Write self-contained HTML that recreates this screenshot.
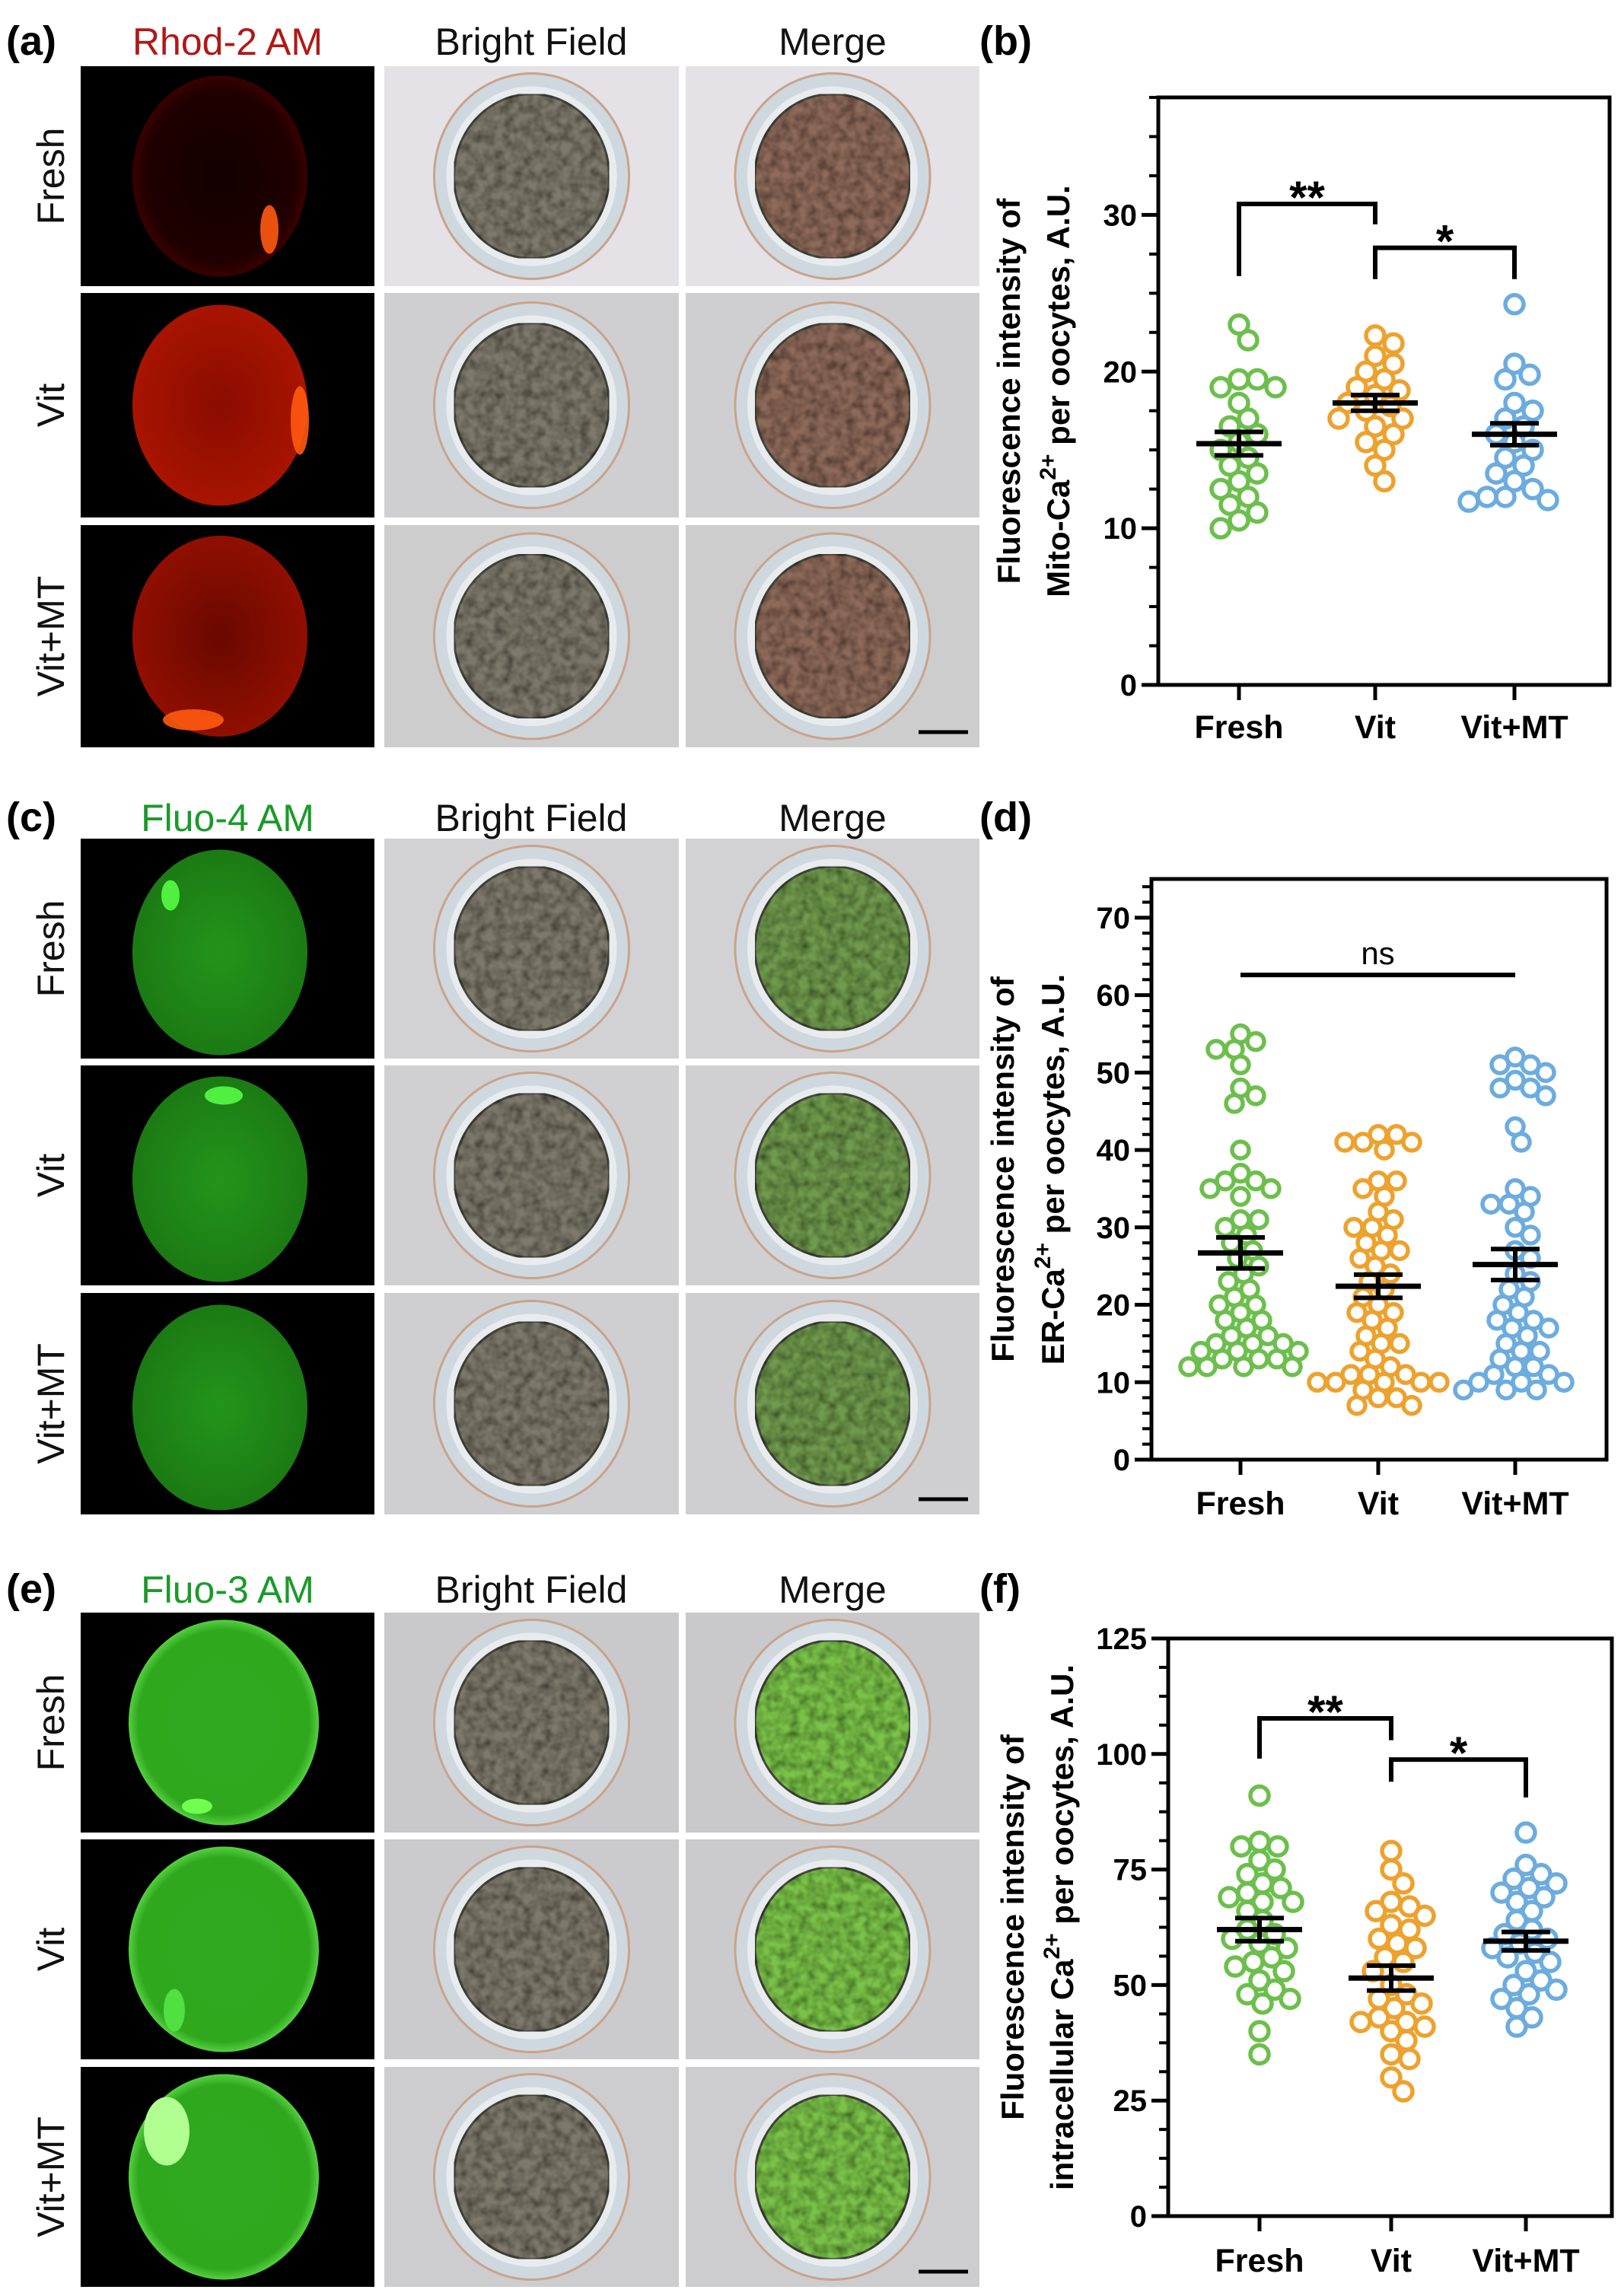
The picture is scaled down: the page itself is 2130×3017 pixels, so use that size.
<!DOCTYPE html>
<html><head><meta charset="utf-8">
<style>
html,body{margin:0;padding:0;background:#fff;}
svg{display:block;}
text{font-family:"Liberation Sans",Arial,sans-serif;}
</style></head>
<body>
<svg id="fig" width="2130" height="3017" viewBox="0 0 2130 3017" xmlns="http://www.w3.org/2000/svg">
<defs>
<filter id="tex" x="0" y="0" width="100%" height="100%">
<feTurbulence type="fractalNoise" baseFrequency="0.08" numOctaves="2" seed="3" result="n"/>
<feColorMatrix in="n" type="matrix" values="0 0 0 0 0  0 0 0 0 0  0 0 0 0 0  0 0 0 1.2 -0.35" result="a"/>
<feComposite in="a" in2="SourceGraphic" operator="in" result="b"/>
<feMerge><feMergeNode in="SourceGraphic"/><feMergeNode in="b"/></feMerge>
</filter>
<radialGradient id="glowR1"><stop offset="0" stop-color="#120000"/><stop offset="0.85" stop-color="#200000"/><stop offset="1" stop-color="#3a0000"/></radialGradient>
<radialGradient id="glowR2"><stop offset="0" stop-color="#8a0c00"/><stop offset="1" stop-color="#a81400"/></radialGradient>
<radialGradient id="glowR3"><stop offset="0" stop-color="#6a0800"/><stop offset="1" stop-color="#900f00"/></radialGradient>
<radialGradient id="glowG4"><stop offset="0" stop-color="#23951a"/><stop offset="1" stop-color="#1c7a14"/></radialGradient>
<radialGradient id="glowG3"><stop offset="0" stop-color="#30a820"/><stop offset="0.9" stop-color="#2fa81e"/><stop offset="1" stop-color="#55d040"/></radialGradient>
</defs>
<g id="images"></g>
<g id="labels"></g>
<g id="charts"></g>
</svg>
<script>
// ===== Chart data =====
const categories = ["Fresh","Vit","Vit+MT"];
const bFresh = [23,22,19.5,19.5,19,19,18,17,16.5,16,15.5,15,14.5,14,13.5,13,12.5,12,11.5,11,10.5,10];
const bVit = [22.3,21.8,21,20.5,20,19.5,19,18.8,18.5,18,17.8,17.5,17,17,16.5,16,15.5,15,14,13];
const bVitMT = [24.3,20.5,19.8,19.5,18,17.5,17,16.5,16,15.5,15,14.5,14,13.5,13,12.5,12,12,11.8,11.7];
const bMeans = [15.4,18.0,16.0];
const bSems = [0.75,0.5,0.7];
const bTicks = [0,10,20,30];

const dFresh = [55,54,53,53,51,48,47,46,40,37,36,36,35,35,34,31,31,30,29,28,27,26,25,24,23,22,21,20,20,19,18,18,17,16,16,15,15,15,14,14,13,13,12,12,12,12,13,14];
const dVit = [42,42,41,41,41,40,36,36,35,34,32,31,30,30,29,28,27,27,26,25,24,23,22,21,20,19,19,18,17,16,15,15,14,13,12,11,11,10,10,10,10,9,8,7,7,8,10,11];
const dVitMT = [52,51,51,50,49,48,48,47,43,41,35,34,33,33,32,30,29,27,26,24,23,22,21,20,19,18,18,17,17,16,15,14,14,13,12,11,11,10,10,9,9,9,10,12];
const dMeans = [26.7,22.4,25.2];
const dSems = [2.0,1.5,2.0];
const dTicks = [0,10,20,30,40,50,60,70];

const fFresh = [91,81,80,80,77,75,74,72,71,70,69,68,68,66,64,62,61,60,59,58,56,55,54,53,51,49,48,47,46,40,35];
const fVit = [79,75,72,68,67,66,65,63,62,60,59,58,56,55,53,50,48,47,46,45,43,42,42,41,40,38,35,34,30,27];
const fVitMT = [83,76,74,73,72,71,70,69,68,66,64,62,61,60,59,58,57,56,55,53,51,50,49,48,47,45,43,41];
const fMeans = [62.0,51.5,59.5];
const fSems = [2.5,2.7,2.0];
const fTicks = [0,25,50,75,100,125];

const NS="http://www.w3.org/2000/svg";
function el(tag, attrs, parent, txt){
  const e=document.createElementNS(NS,tag);
  for(const k in attrs) e.setAttribute(k,attrs[k]);
  if(txt!==undefined) e.textContent=txt;
  parent.appendChild(e); return e;
}
const colors=["#6cbf4c","#eda22e","#6cacdf"];

// ===== Micrographs =====
const imgG=document.getElementById('images');
const cols=[106,505,901], colW=[386,387,386];
const sections=[
 {rows:[[87,376],[385,680],[690,982]], kind:'rhod'},
 {rows:[[1102,1391],[1400,1689],[1699,1990]], kind:'fluo4'},
 {rows:[[2119,2408],[2417,2706],[2716,3005]], kind:'fluo3'}
];
sections.forEach((s,si)=>{
  s.rows.forEach((r,ri)=>{
    const y=r[0], h=r[1]-r[0];
    for(let c=0;c<3;c++){
      const x=cols[c], w=colW[c];
      const g=el('g',{},imgG);
      
      
      const cx=x+w/2, cy=y+h/2;
      if(c===0){
        el('rect',{x:x,y:y,width:w,height:h,fill:'#000'},g);
        if(s.kind==='rhod'){
          const fills=['url(#glowR1)','url(#glowR2)','url(#glowR3)'];
          el('ellipse',{cx:cx-10,cy:cy,rx:115,ry:132,fill:fills[ri]},g);
          const spots=[[cx+55,cy+70,12,32],[cx+95,cy+20,12,45],[cx-45,cy+110,40,14]];
          const sp=spots[ri];
          el('ellipse',{cx:sp[0],cy:sp[1],rx:sp[2],ry:sp[3],fill:'#ff5a10',opacity:0.9},g);
        } else if(s.kind==='fluo4'){
          el('ellipse',{cx:cx-10,cy:cy+5,rx:115,ry:135,fill:'url(#glowG4)'},g);
          if(ri===0) el('ellipse',{cx:cx-75,cy:cy-70,rx:12,ry:20,fill:'#50f040'},g);
          if(ri===1) el('ellipse',{cx:cx-5,cy:cy-105,rx:25,ry:12,fill:'#50f040'},g);
        } else {
          el('ellipse',{cx:cx-5,cy:cy,rx:125,ry:135,fill:'url(#glowG3)'},g);
          if(ri===0) el('ellipse',{cx:cx-40,cy:cy+110,rx:20,ry:10,fill:'#70ff50'},g);
          if(ri===1) el('ellipse',{cx:cx-70,cy:cy+80,rx:14,ry:28,fill:'#50e040'},g);
          if(ri===2) el('ellipse',{cx:cx-80,cy:cy-60,rx:30,ry:45,fill:'#b0ff90'},g);
        }
      } else {
        const bgs=[['#e4e2e6','#cfcfd2','#cdcdce'],['#d2d2d4','#d0d0d2','#cfcfd1'],['#c9c9cb','#cbcbcd','#cdcdcf']];
        el('rect',{x:x,y:y,width:w,height:h,fill:bgs[si][ri]},g);
        el('ellipse',{cx:cx,cy:cy,rx:128,ry:135,fill:'#cfd8de',stroke:'#c9a38a','stroke-width':3},g);
        el('ellipse',{cx:cx,cy:cy,rx:112,ry:118,fill:'#e8ecee'},g);
        let inner = c===1 ? '#7e796c' : (s.kind==='rhod' ? '#8e6a5a' : (s.kind==='fluo4' ? '#6f9a4e' : '#7ac24a'));
        el('ellipse',{cx:cx,cy:cy,rx:102,ry:108,fill:inner,stroke:'#4a4a40','stroke-width':3,filter:'url(#tex)'},g);
      }
      if(c===2 && ri===2){
        el('line',{x1:x+w-80,x2:x+w-15,y1:y+h-20,y2:y+h-20,stroke:'#000','stroke-width':5},g);
      }
    }
  });
});

// ===== Labels =====
const L=document.getElementById('labels');
const heads=[[58,'Rhod-2 AM','#b01818','(a)','(b)'],[1078,'Fluo-4 AM','#1a9a2a','(c)','(d)'],[2092,'Fluo-3 AM','#1a9a2a','(e)','(f)']];
heads.forEach((h,i)=>{
  let t=el('text',{x:8,y:h[0]+14,'font-size':54,'font-weight':'bold',fill:'#000'},L,h[3]);
   
  t=el('text',{x:1287,y:h[0]+14,'font-size':54,'font-weight':'bold',fill:'#000'},L,h[4]);
   
  t=el('text',{x:299,y:h[0]+14,'font-size':50,fill:h[2],'text-anchor':'middle'},L,h[1]);
   
  t=el('text',{x:698,y:h[0]+14,'font-size':50,fill:'#111','text-anchor':'middle'},L,'Bright Field');
   
  t=el('text',{x:1094,y:h[0]+14,'font-size':50,fill:'#111','text-anchor':'middle'},L,'Merge');
   
  sections[i].rows.forEach((r,ri)=>{
    const yc=(r[0]+r[1])/2;
    const tt=el('text',{x:0,y:0,'font-size':50,fill:'#111','text-anchor':'middle',transform:`translate(84,${yc}) rotate(-90)`},L,categories[ri]);
     
  });
});

// ===== Charts =====
const C=document.getElementById('charts');
function chart(o){
  const g=el('g',{},C);
   
  const ys=v=>o.y0-(v/o.max)*(o.y0-o.yTop);
  el('rect',{x:o.x0,y:o.yTop,width:o.x1-o.x0,height:o.y0-o.yTop,fill:'none',stroke:'#000','stroke-width':5},g);
  for(let v=0; v<=o.max+1e-6; v+=o.minor){
    el('line',{x1:o.x0-12,x2:o.x0,y1:ys(v),y2:ys(v),stroke:'#000','stroke-width':4},g);
  }
  o.ticks.forEach(v=>{
    el('line',{x1:o.x0-22,x2:o.x0,y1:ys(v),y2:ys(v),stroke:'#000','stroke-width':5},g);
    const t=el('text',{x:o.x0-28,y:ys(v)+14,'font-size':40,'font-weight':'bold','text-anchor':'end',fill:'#000'},g,String(v));
     
  });
  categories.forEach((c,i)=>{
    el('line',{x1:o.cx[i],x2:o.cx[i],y1:o.y0,y2:o.y0+20,stroke:'#000','stroke-width':5},g);
    const t=el('text',{x:o.cx[i],y:o.labY,'font-size':43,'font-weight':'bold','text-anchor':'middle',fill:'#000'},g,c);
     
  });
  const yc=(o.yTop+o.y0)/2;
  const t1=el('text',{'font-size':42,'font-weight':'bold','text-anchor':'middle',fill:'#000',transform:`translate(${o.tx1},${yc}) rotate(-90)`},g,'Fluorescence intensity of');
   
  const t2=el('text',{'font-size':42,'font-weight':'bold','text-anchor':'middle',fill:'#000',transform:`translate(${o.tx2},${yc}) rotate(-90)`},g);
   
  el('tspan',{},t2,o.pre+'Ca');
  el('tspan',{'font-size':30,dy:-18},t2,'2+');
  el('tspan',{dy:18},t2,' per oocytes,  A.U.');
  const R=o.r;
  o.series.forEach((vals,i)=>{
    const sg=el('g',{},g);
     
    const placed=[];
    const sorted=vals.slice().sort((a,b)=>b-a);
    sorted.forEach(v=>{
      const py=ys(v); let off=0;
      for(let k=0;k<200;k++){
        const cand = (k%2? 1:-1)*Math.ceil(k/2)*4;
        if(placed.every(p=>Math.hypot(p[0]-cand,p[1]-py)>=R*1.9)){off=cand;break;}
      }
      placed.push([off,py]);
      const c=el('circle',{cx:o.cx[i]+off,cy:py,r:R,fill:'none',stroke:colors[i],'stroke-width':5.5},sg);
       
    });
    const m=o.means[i], s=o.sems[i];
    const eg=el('g',{},g);
     
    el('line',{x1:o.cx[i]-56,x2:o.cx[i]+56,y1:ys(m),y2:ys(m),stroke:'#000','stroke-width':7},eg);
    el('line',{x1:o.cx[i]-32,x2:o.cx[i]+32,y1:ys(m+s),y2:ys(m+s),stroke:'#000','stroke-width':6},eg);
    el('line',{x1:o.cx[i]-32,x2:o.cx[i]+32,y1:ys(m-s),y2:ys(m-s),stroke:'#000','stroke-width':6},eg);
    el('line',{x1:o.cx[i],x2:o.cx[i],y1:ys(m+s),y2:ys(m-s),stroke:'#000','stroke-width':6},eg);
  });
  (o.brackets||[]).forEach(b=>{
    const bg=el('g',{},g);
     
    el('path',{d:`M${o.cx[b.a]},${ys(b.la)} V${ys(b.h)} H${o.cx[b.b]} V${ys(b.lb)}`,fill:'none',stroke:'#000','stroke-width':6},bg);
    const t=el('text',{x:(o.cx[b.a]+o.cx[b.b])/2,y:ys(b.h)-14+(b.ns?0:26),'font-size':b.ns?42:60,'font-weight':b.ns?'normal':'bold','text-anchor':'middle',fill:'#000'},bg,b.label);
     
  });
}
chart({name:'chart-b-mito-ca',x0:1522,x1:2115,yTop:128,y0:900,max:37.5,minor:2.5,ticks:bTicks,cx:[1628,1807,1990],labY:970,
  tx1:1340,tx2:1405,pre:'Mito-',r:12,series:[bFresh,bVit,bVitMT],means:bMeans,sems:bSems,
  brackets:[{a:0,b:1,h:30.7,la:26.1,lb:29.4,label:'**'},{a:1,b:2,h:27.9,la:25.9,lb:25.9,label:'*'}]});
chart({name:'chart-d-er-ca',x0:1513,x1:2111,yTop:1155,y0:1918,max:75,minor:2,ticks:dTicks,cx:[1630,1811,1991],labY:1990,
  tx1:1332,tx2:1398,pre:'ER-',r:11,series:[dFresh,dVit,dVitMT],means:dMeans,sems:dSems,
  brackets:[{a:0,b:2,h:62.6,la:62.6,lb:62.6,label:'ns',ns:true}]});
chart({name:'chart-f-intracellular-ca',x0:1535,x1:2118,yTop:2153,y0:2912,max:125,minor:6.25,ticks:fTicks,cx:[1655,1828,2005],labY:2985,
  tx1:1345,tx2:1410,pre:'intracellular ',r:12,series:[fFresh,fVit,fVitMT],means:fMeans,sems:fSems,
  brackets:[{a:0,b:1,h:107.7,la:99,lb:103,label:'**'},{a:1,b:2,h:98.8,la:94,lb:90.6,label:'*'}]});
</script>
</body></html>
